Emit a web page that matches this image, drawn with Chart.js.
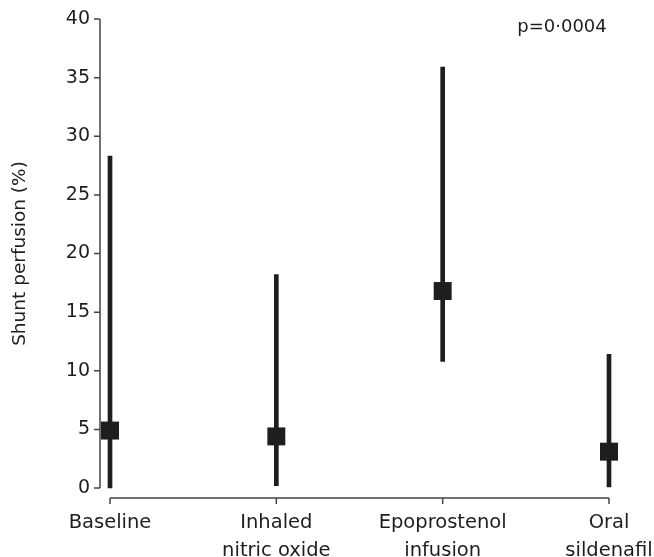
<!DOCTYPE html>
<html>
<head>
<meta charset="utf-8">
<script src="https://cdn.jsdelivr.net/npm/chart.js@4.4.1/dist/chart.umd.min.js"></script>
<style>
  html, body { margin: 0; padding: 0; background: #fff; }
  #chart { display: block; }
</style>
</head>
<body>
<canvas id="chart" width="654" height="557"></canvas>
<script>
  // values
  const categories = [["Baseline"], ["Inhaled", "nitric oxide"], ["Epoprostenol", "infusion"], ["Oral", "sildenafil"]];
  const medians = [4.9, 4.4, 16.8, 3.1];
  const lows = [0, 0.2, 10.8, 0.1];
  const highs = [28.3, 18.2, 35.9, 11.4];
  const yTicks = [0, 5, 10, 15, 20, 25, 30, 35, 40];
  const yTitle = "Shunt perfusion (%)";
  const pText = "p=0·0004";

  const ink = "#1e1e1e";
  const axisInk = "#444";
  const family = "'DejaVu Sans', sans-serif";

  // axes drawn detached from the plot area, as in the original figure
  const offsetAxes = {
    id: "offsetAxes",
    afterDraw(chart) {
      const { ctx, chartArea, scales } = chart;
      const xs = scales.x, ys = scales.y;
      const ax = chartArea.left - 10;
      const ay = chartArea.bottom + 10;
      ctx.save();
      ctx.strokeStyle = axisInk;
      ctx.lineWidth = 1.5;
      ctx.beginPath();
      ctx.moveTo(ax, ys.getPixelForValue(yTicks[yTicks.length - 1]));
      ctx.lineTo(ax, ys.getPixelForValue(yTicks[0]));
      yTicks.forEach((v) => {
        const py = ys.getPixelForValue(v);
        ctx.moveTo(ax - 6, py);
        ctx.lineTo(ax, py);
      });
      ctx.moveTo(xs.getPixelForValue(0), ay);
      ctx.lineTo(xs.getPixelForValue(categories.length - 1), ay);
      categories.forEach((c, i) => {
        const px = xs.getPixelForValue(i);
        ctx.moveTo(px, ay);
        ctx.lineTo(px, ay + 6);
      });
      ctx.stroke();

      ctx.fillStyle = ink;
      ctx.font = "18px " + family;
      ctx.textAlign = "center";
      ctx.textBaseline = "middle";
      ctx.fillText(pText, 562, 27);
      ctx.restore();
    }
  };

  new Chart(document.getElementById("chart"), {
    type: "bar",
    data: {
      labels: categories,
      datasets: [
        {
          type: "bar",
          data: categories.map((c, i) => [lows[i], highs[i]]),
          backgroundColor: ink,
          barThickness: 4,
          borderWidth: 0,
          clip: false,
          order: 2
        },
        {
          type: "line",
          data: medians,
          showLine: false,
          pointStyle: "rect",
          pointRadius: 12.7,
          pointBackgroundColor: ink,
          pointBorderWidth: 0,
          clip: false,
          order: 1
        }
      ]
    },
    options: {
      responsive: false,
      animation: false,
      events: [],
      layout: { padding: { top: 19, right: 45, left: 0, bottom: 0 } },
      plugins: { legend: { display: false }, tooltip: { enabled: false } },
      scales: {
        x: {
          type: "category",
          offset: false,
          grid: { display: false, drawTicks: false },
          border: { display: false },
          ticks: {
            color: ink,
            font: { family, size: 19.5, lineHeight: 1.42 },
            padding: 21,
            maxRotation: 0,
            autoSkip: false
          },
          afterFit(s) {
            s.height = 69;
            s.paddingLeft = 0; s.paddingRight = 0;
          }
        },
        y: {
          min: 0,
          max: 40,
          grid: { display: false, drawTicks: false },
          border: { display: false },
          afterBuildTicks(s) { s.ticks = yTicks.map((v) => ({ value: v })); },
          ticks: { color: ink, font: { family, size: 19 }, padding: 20 },
          title: {
            display: true,
            text: yTitle,
            color: ink,
            font: { family, size: 18.5 },
            padding: { top: 9, bottom: 0 }
          },
          afterFit(s) {
            s.width = 110;
            s.paddingTop = 0; s.paddingBottom = 0;
          }
        }
      }
    },
    plugins: [offsetAxes]
  });
</script>
</body>
</html>
